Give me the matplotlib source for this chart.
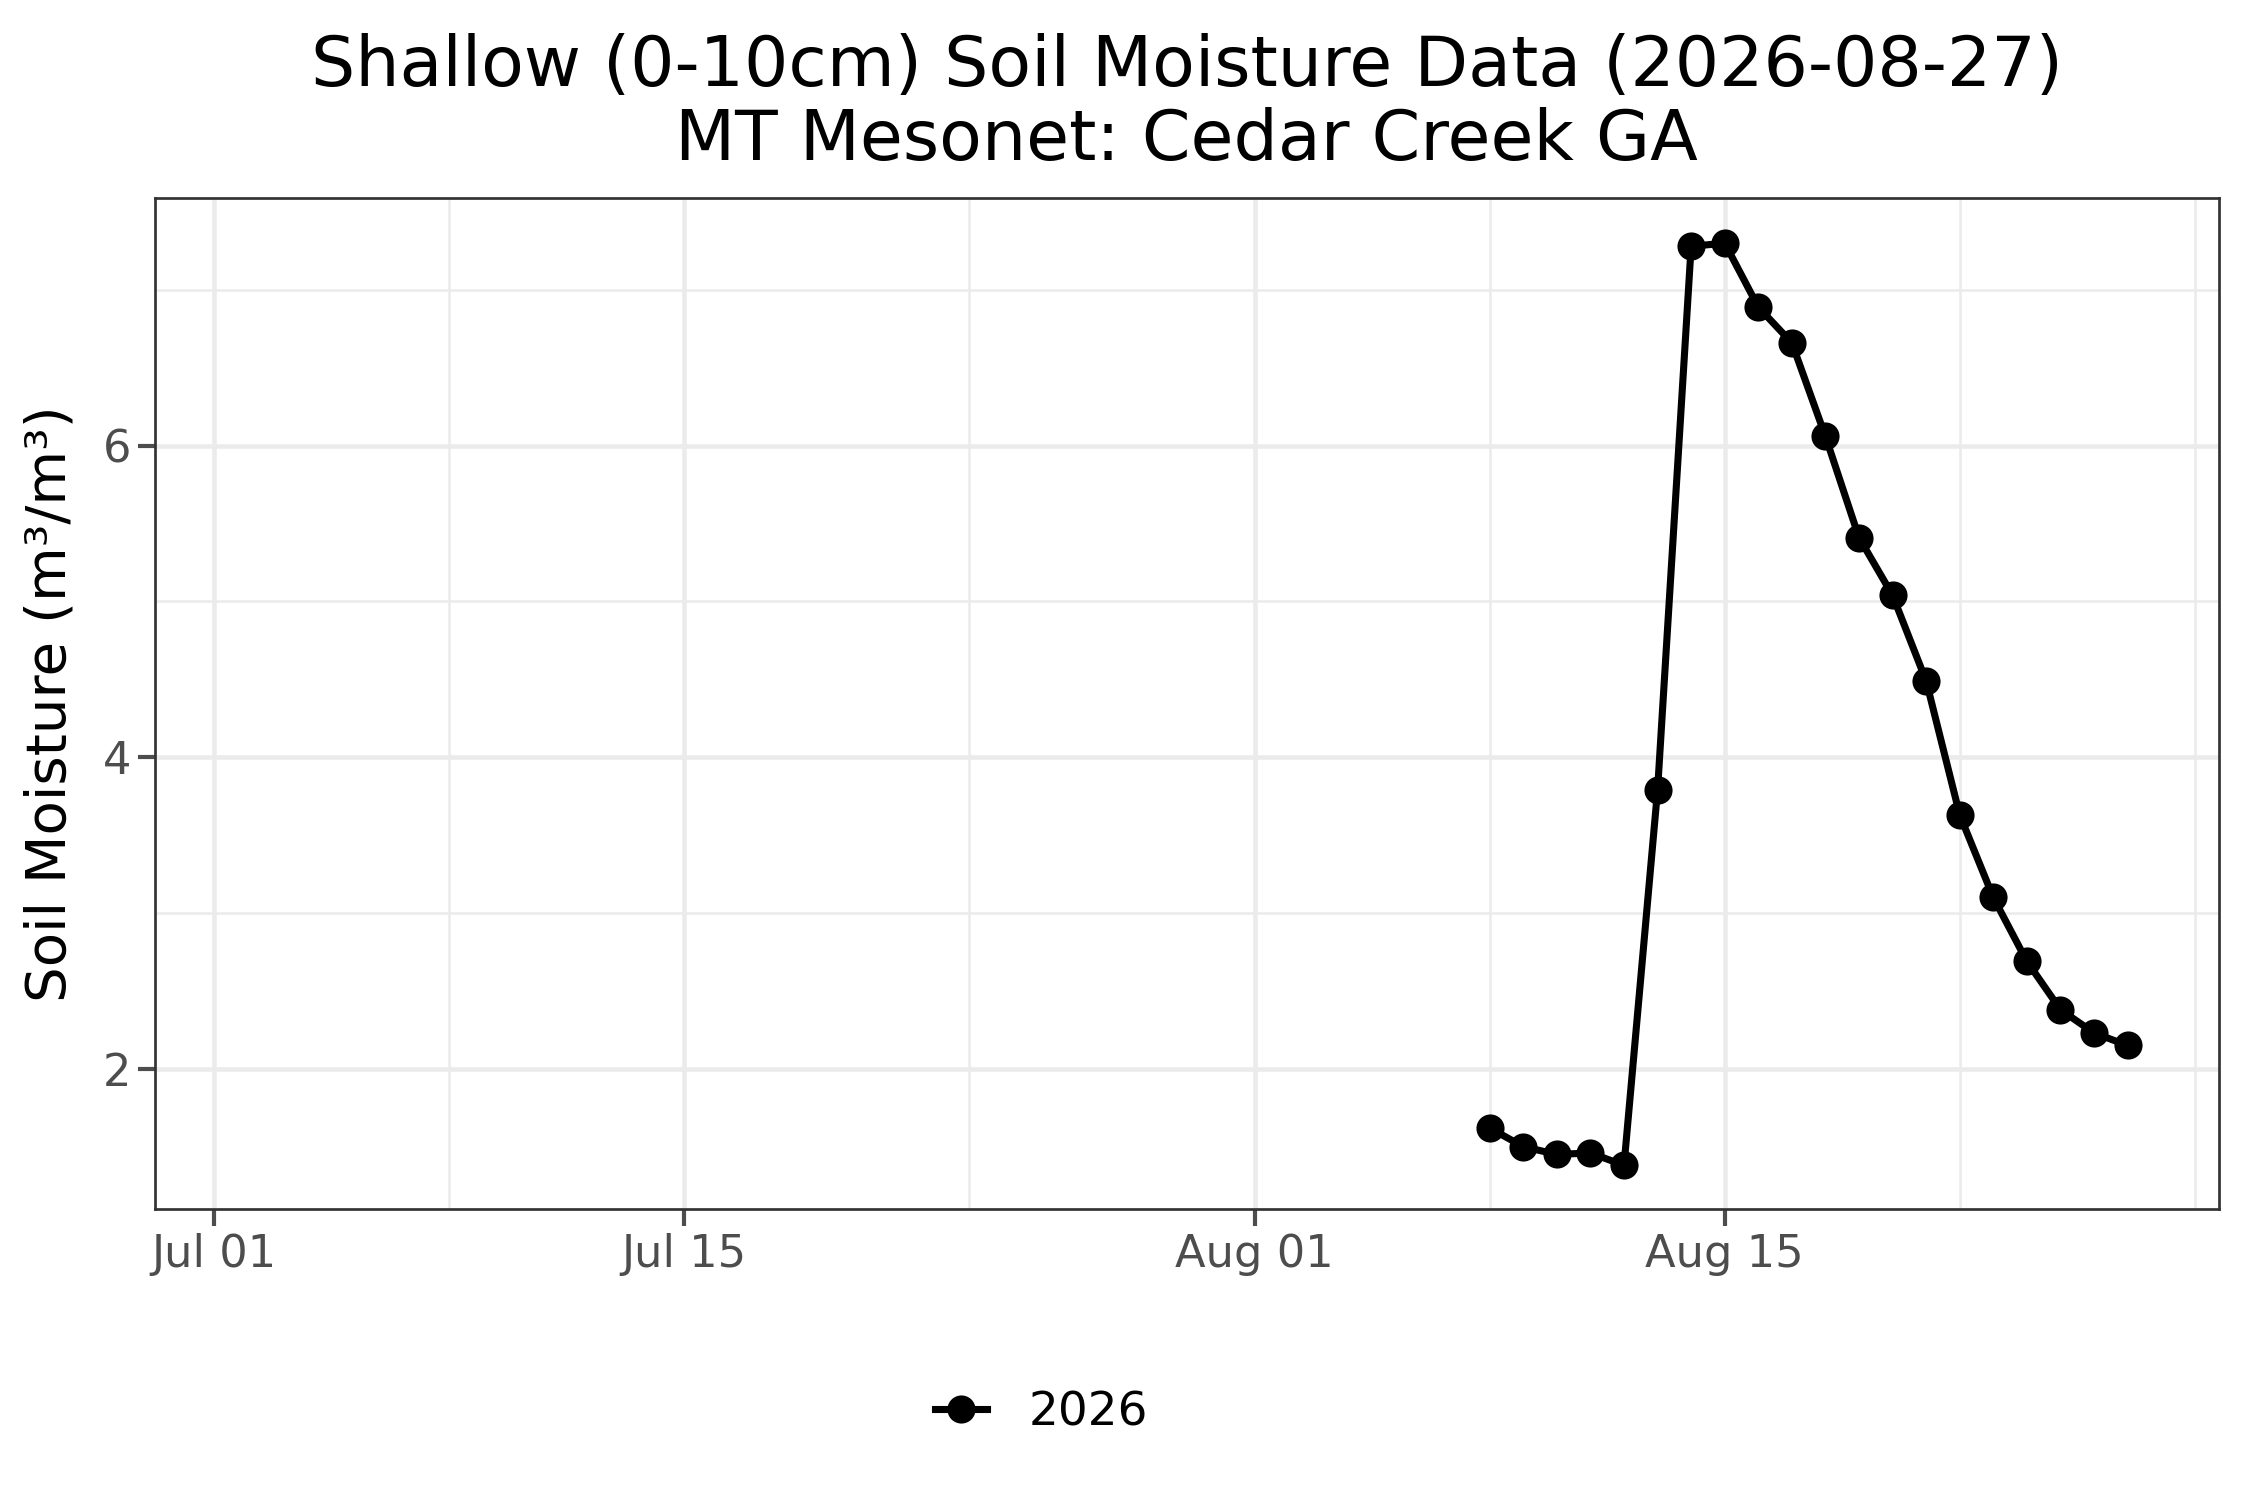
import numpy as np
import pandas as pd
import matplotlib
matplotlib.use("Agg")
import matplotlib.pyplot as plt

# data
dates = pd.date_range("2026-08-08", "2026-08-27", freq="D")
moisture = [1.62, 1.50, 1.45, 1.46, 1.38, 3.79, 7.28, 7.30, 6.89, 6.66,
            6.06, 5.41, 5.04, 4.49, 3.63, 3.10, 2.69, 2.38, 2.23, 2.15]
series_label = "2026"
major_ticks = pd.to_datetime(["2026-07-01", "2026-07-15", "2026-08-01", "2026-08-15"])
tick_labels = ["Jul 01", "Jul 15", "Aug 01", "Aug 15"]
minor_ticks = pd.to_datetime(["2026-07-08 00:00", "2026-07-23 12:00", "2026-08-08 00:00",
                              "2026-08-22 00:00", "2026-08-29 00:00"])
y_major = [2, 4, 6]
y_minor = [3, 5, 7]

fig = plt.figure(figsize=(15, 10), dpi=150)
ax = fig.add_axes([0.069, 0.194, 0.917, 0.674])

grid = "#EBEBEB"
for d in minor_ticks:
    ax.axvline(d, color=grid, lw=1.2, zorder=0)
for v in y_minor:
    ax.axhline(v, color=grid, lw=1.2, zorder=0)
for d in major_ticks:
    ax.axvline(d, color=grid, lw=2.2, zorder=0)
for v in y_major:
    ax.axhline(v, color=grid, lw=2.2, zorder=0)

ax.plot(dates, moisture, color="black", lw=3.4, marker="o", markersize=12.5,
        label=series_label, zorder=3)

ax.set_xlim(pd.Timestamp("2026-06-29 06:00"), pd.Timestamp("2026-08-29 17:00"))
ax.set_ylim(1.10, 7.59)
ax.set_xticks(major_ticks)
ax.set_xticklabels(tick_labels)
ax.set_yticks(y_major)
ax.set_yticklabels([str(v) for v in y_major])
ax.tick_params(colors="#4D4D4D", labelsize=21.5, length=8, width=2)
for s in ax.spines.values():
    s.set_color("#333333")
    s.set_linewidth(1.3)

ax.set_ylabel("Soil Moisture (m³/m³)", fontsize=27, labelpad=12)
ax.set_title("Shallow (0-10cm) Soil Moisture Data (2026-08-27)\nMT Mesonet: Cedar Creek GA",
             fontsize=33.5, pad=18, linespacing=1.15)

fig.legend(loc="center", bbox_to_anchor=(0.463, 0.058), frameon=False,
           fontsize=22.5, handlelength=1.1, handletextpad=0.9)

fig.savefig("out.png", dpi=150)
